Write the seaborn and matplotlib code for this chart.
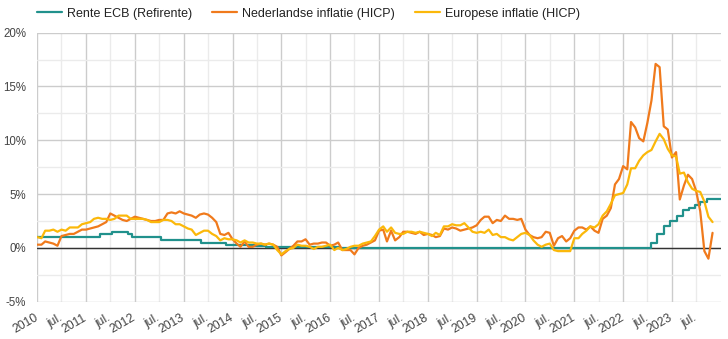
import matplotlib
matplotlib.use("Agg")
import matplotlib.pyplot as plt
import matplotlib.dates as mdates
from matplotlib.ticker import FixedLocator, FixedFormatter
from matplotlib.lines import Line2D
import pandas as pd
import seaborn as sns

# Monthly observations, January 2010 through November 2023
months = pd.date_range("2010-01-01", "2023-11-01", freq="MS")

# Dutch HICP, annual change in %
nl_hicp = [
    0.3, 0.3, 0.6, 0.5, 0.4, 0.2, 1.1, 1.2, 1.3, 1.3, 1.5, 1.7,      # 2010
    1.7, 1.8, 1.9, 2.0, 2.2, 2.4, 3.2, 3.0, 2.8, 2.6, 2.5, 2.7,      # 2011
    2.9, 2.8, 2.7, 2.6, 2.5, 2.5, 2.6, 2.6, 3.2, 3.3, 3.2, 3.4,      # 2012
    3.2, 3.1, 3.0, 2.8, 3.1, 3.2, 3.1, 2.8, 2.4, 1.3, 1.2, 1.4,      # 2013
    0.8, 0.4, 0.1, 0.6, 0.1, 0.1, 0.3, 0.4, 0.3, 0.4, 0.3, 0.1,      # 2014
    -0.7, -0.4, -0.1, 0.2, 0.6, 0.6, 0.8, 0.3, 0.4, 0.4, 0.5, 0.5,   # 2015
    0.2, 0.3, 0.5, -0.2, -0.2, -0.2, -0.6, 0.0, 0.2, 0.3, 0.5, 0.7,  # 2016
    1.6, 1.7, 0.6, 1.6, 0.7, 1.0, 1.5, 1.5, 1.4, 1.3, 1.5, 1.2,      # 2017
    1.3, 1.2, 1.0, 1.1, 1.8, 1.7, 1.9, 1.8, 1.6, 1.7, 1.8, 1.9,      # 2018
    2.1, 2.6, 2.9, 2.9, 2.3, 2.6, 2.5, 3.0, 2.7, 2.7, 2.6, 2.7,      # 2019
    1.7, 1.2, 1.0, 0.9, 1.0, 1.5, 1.4, 0.2, 0.9, 1.1, 0.6, 0.9,      # 2020
    1.6, 1.9, 1.9, 1.7, 2.0, 1.6, 1.4, 2.7, 3.0, 3.7, 5.9, 6.4,      # 2021
    7.6, 7.3, 11.7, 11.2, 10.2, 9.9, 11.6, 13.7, 17.1, 16.8, 11.3, 11.0,  # 2022
    8.4, 8.9, 4.5, 5.8, 6.8, 6.4, 5.3, 3.4, -0.3, -1.0, 1.4,         # 2023
]

# Euro area HICP, annual change in %
eu_hicp = [
    1.0, 0.9, 1.6, 1.6, 1.7, 1.5, 1.7, 1.6, 1.9, 1.9, 1.9, 2.2,      # 2010
    2.3, 2.4, 2.7, 2.8, 2.7, 2.7, 2.6, 2.7, 3.0, 3.0, 3.0, 2.7,      # 2011
    2.7, 2.7, 2.7, 2.6, 2.4, 2.4, 2.4, 2.6, 2.6, 2.5, 2.2, 2.2,      # 2012
    2.0, 1.8, 1.7, 1.2, 1.4, 1.6, 1.6, 1.3, 1.1, 0.7, 0.9, 0.8,      # 2013
    0.8, 0.7, 0.5, 0.7, 0.5, 0.5, 0.4, 0.4, 0.3, 0.4, 0.3, -0.2,     # 2014
    -0.6, -0.3, -0.1, 0.0, 0.3, 0.2, 0.2, 0.1, -0.1, 0.1, 0.1, 0.2,  # 2015
    0.3, -0.2, 0.0, -0.2, -0.1, 0.1, 0.2, 0.2, 0.4, 0.5, 0.6, 1.1,   # 2016
    1.7, 2.0, 1.5, 1.9, 1.4, 1.3, 1.3, 1.5, 1.5, 1.4, 1.5, 1.4,      # 2017
    1.3, 1.1, 1.4, 1.2, 2.0, 2.0, 2.2, 2.1, 2.1, 2.3, 1.9, 1.5,      # 2018
    1.4, 1.5, 1.4, 1.7, 1.2, 1.3, 1.0, 1.0, 0.8, 0.7, 1.0, 1.3,      # 2019
    1.4, 1.2, 0.7, 0.3, 0.1, 0.3, 0.4, -0.2, -0.3, -0.3, -0.3, -0.3, # 2020
    0.9, 0.9, 1.3, 1.6, 2.0, 1.9, 2.2, 3.0, 3.4, 4.1, 4.9, 5.0,      # 2021
    5.1, 5.9, 7.4, 7.4, 8.1, 8.6, 8.9, 9.1, 9.9, 10.6, 10.1, 9.2,    # 2022
    8.6, 8.5, 6.9, 7.0, 6.1, 5.5, 5.3, 5.2, 4.3, 2.9, 2.4,           # 2023
]

# ECB main refinancing rate: dates on which a new rate took effect
ecb_dates = [
    "2010-01-01", "2011-04-13", "2011-07-13", "2011-11-09", "2011-12-14",
    "2012-07-11", "2013-05-08", "2013-11-13", "2014-06-11", "2014-09-10",
    "2016-03-16", "2022-07-27", "2022-09-14", "2022-11-02", "2022-12-21",
    "2023-02-08", "2023-03-22", "2023-05-10", "2023-06-21", "2023-08-02",
    "2023-09-20", "2024-01-01",
]
ecb_rate = [
    1.00, 1.25, 1.50, 1.25, 1.00,
    0.75, 0.50, 0.25, 0.15, 0.05,
    0.00, 0.50, 1.25, 2.00, 2.50,
    3.00, 3.50, 3.75, 4.00, 4.25,
    4.50, 4.50,
]

series_names = ["Rente ECB (Refirente)", "Nederlandse inflatie (HICP)", "Europese inflatie (HICP)"]
series_colors = ["#21918c", "#f07a1c", "#fbb80a"]

year_labels = [str(y) for y in range(2010, 2024)]
half_year_label = "jul."
y_ticks = [-5, 0, 5, 10, 15, 20]
y_labels = ["-5%", "0%", "5%", "10%", "15%", "20%"]
y_minor = [-2.5, 2.5, 7.5, 12.5, 17.5]

ecb_df = pd.DataFrame({"datum": pd.to_datetime(ecb_dates), "waarde": ecb_rate})
infl_df = pd.DataFrame({
    "datum": list(months) * 2,
    "waarde": nl_hicp + eu_hicp,
    "reeks": [series_names[1]] * len(nl_hicp) + [series_names[2]] * len(eu_hicp),
})

sns.set_theme(style="white")
plt.rcParams["font.family"] = ["Liberation Sans", "DejaVu Sans"]

W, H = 728, 339
fig = plt.figure(figsize=(W / 100, H / 100), dpi=100)
fig.patch.set_facecolor("white")
left, right, top, bottom = 37.3, 720.7, 32.7, 301.7
ax = fig.add_axes([left / W, 1 - bottom / H, (right - left) / W, (bottom - top) / H])
ax.set_facecolor("white")

ax.axhline(0, color="#333333", lw=1.0, zorder=2)

sns.lineplot(data=ecb_df, x="datum", y="waarde", ax=ax, color=series_colors[0],
             lw=1.6, drawstyle="steps-post", legend=False, zorder=3)
sns.lineplot(data=infl_df, x="datum", y="waarde", hue="reeks",
             hue_order=series_names[1:], palette=series_colors[1:],
             ax=ax, lw=1.6, legend=False, zorder=4)

ax.set_xlim(pd.Timestamp("2010-01-01"), pd.Timestamp("2024-01-01"))
ax.set_ylim(-5, 20)

year_ticks = [mdates.date2num(pd.Timestamp(f"{y}-01-01")) for y in year_labels]
jul_ticks = [mdates.date2num(pd.Timestamp(f"{y}-07-01")) for y in year_labels]
ax.xaxis.set_major_locator(FixedLocator(year_ticks))
ax.xaxis.set_major_formatter(FixedFormatter(year_labels))
ax.xaxis.set_minor_locator(FixedLocator(jul_ticks))
ax.xaxis.set_minor_formatter(FixedFormatter([half_year_label] * len(jul_ticks)))

ax.yaxis.set_major_locator(FixedLocator(y_ticks))
ax.yaxis.set_major_formatter(FixedFormatter(y_labels))
ax.yaxis.set_minor_locator(FixedLocator(y_minor))

ax.set_xlabel("")
ax.set_ylabel("")
for s in ax.spines.values():
    s.set_visible(False)

ax.set_axisbelow(True)
ax.grid(which="major", color="#cccccc", lw=1.0)
ax.grid(which="minor", color="#ebebeb", lw=1.0)

ax.tick_params(axis="y", which="both", length=0, pad=8, labelsize=8.3, labelcolor="#444444")
ax.tick_params(axis="x", which="both", length=0, pad=11, labelsize=8.7, labelcolor="#444444")
for lab in ax.get_xticklabels(which="both"):
    lab.set_rotation(30)
    lab.set_ha("right")
    lab.set_va("center")
    lab.set_rotation_mode("anchor")

handles = [Line2D([], [], color=c, lw=1.6) for c in series_colors]
fig.legend(handles, series_names, loc="center left",
           bbox_to_anchor=(37 / W, 1 - 13.5 / H), ncol=3, frameon=False,
           fontsize=9, handlelength=2.0, handletextpad=0.4, columnspacing=1.6,
           borderpad=0, borderaxespad=0, labelcolor="#222222")

fig.savefig("out.png", dpi=100, facecolor="white")
